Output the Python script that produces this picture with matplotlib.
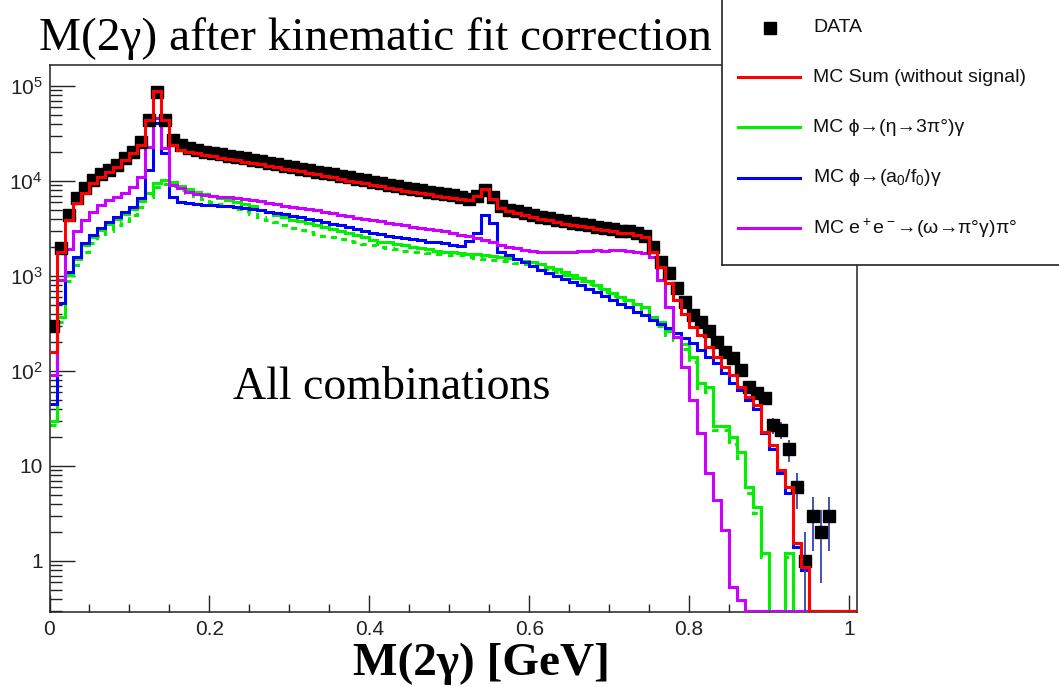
import numpy as np
import matplotlib.pyplot as plt
from matplotlib.ticker import FixedLocator, LogLocator, MultipleLocator, NullFormatter, FuncFormatter

plt.rcParams['font.family'] = ['Liberation Sans', 'DejaVu Sans']
plt.rcParams['mathtext.fontset'] = 'custom'
plt.rcParams['mathtext.rm'] = 'Liberation Sans'
plt.rcParams['mathtext.it'] = 'Liberation Sans:italic'
plt.rcParams['mathtext.bf'] = 'Liberation Sans:bold'

# histogram binning: 101 bins of 0.01 GeV
edges = np.linspace(0, 1.01, 102)

data_counts = [
    300, 1950, 4400, 6600, 8500, 10200, 11800, 13000, 14600, 17500,
    20300, 25700, 44000, 87000, 44000, 27000, 24000, 22300, 21000, 20300,
    19600, 19100, 18400, 18000, 17400, 16700, 16300, 15600, 15200, 14500,
    14100, 13500, 13100, 12500, 12200, 11700, 11400, 10900, 10500, 10200,
    9800, 9500, 9100, 8900, 8500, 8300, 8000, 7700, 7500, 7200,
    7100, 6700, 6500, 7000, 8000, 6800, 5500, 5000, 4800, 4600,
    4400, 4200, 4050, 3900, 3750, 3600, 3500, 3400, 3300, 3200,
    3100, 3000, 2950, 2800, 2600, 2000, 1410, 1070, 750, 530,
    390, 330, 260, 200, 160, 137, 102, 68, 58, 52,
    27, 24, 15, 6, 1, 3, 2, 3, 0, 0,
    0]

mc_sum = [
    160, 1800, 3900, 5900, 7400, 9500, 11000, 12500, 14100, 16600,
    19600, 24000, 44000, 89000, 44000, 24000, 21000, 20300, 19500, 18800,
    18200, 17600, 17100, 16500, 16000, 15500, 15000, 14500, 14000, 13500,
    13000, 12600, 12100, 11700, 11300, 10900, 10500, 10100, 9800, 9400,
    9100, 8800, 8500, 8200, 7900, 7700, 7400, 7200, 7000, 6800,
    6600, 6400, 6300, 6900, 8300, 6500, 5200, 4800, 4550, 4350,
    4150, 4000, 3850, 3700, 3550, 3450, 3350, 3250, 3150, 3050,
    2950, 2850, 2800, 2700, 2550, 1800, 1250, 850, 560, 400,
    290, 240, 180, 140, 110, 90, 68, 53, 44, 23,
    16.6, 9.1, 6, 1.55, 0.86, 0, 0, 0, 0, 0,
    0]

mc_eta = [
    30, 370, 1020, 1500, 2100, 2550, 3050, 3500, 4000, 4500,
    5100, 6200, 7500, 9600, 10200, 9800, 8800, 8200, 7700, 7300,
    6900, 6600, 6300, 6000, 5700, 5400, 5000, 4700, 4400, 4150,
    3900, 3750, 3600, 3450, 3300, 3150, 3000, 2850, 2700, 2550,
    2400, 2300, 2250, 2150, 2100, 2000, 1950, 1900, 1850, 1800,
    1780, 1750, 1720, 1700, 1650, 1620, 1600, 1550, 1500, 1450,
    1400, 1330, 1250, 1170, 1100, 1030, 950, 880, 800, 730,
    660, 600, 560, 510, 470, 370, 330, 260, 230, 190,
    140, 75, 68, 26, 26, 20, 14, 6, 3.7, 1.2,
    0, 0, 1.2, 0, 0, 0, 0, 0, 0, 0,
    0]

mc_eta_alt = [
    27, 330, 880, 1300, 1800, 2200, 2600, 3000, 3400, 3800,
    4400, 5300, 6700, 8600, 9300, 8900, 8000, 7400, 6900, 6400,
    6000, 5700, 5400, 5100, 4800, 4500, 4200, 3900, 3650, 3400,
    3200, 3050, 2900, 2750, 2650, 2550, 2450, 2350, 2250, 2150,
    2100, 2000, 1950, 1900, 1850, 1800, 1780, 1750, 1720, 1700,
    1680, 1650, 1600, 1560, 1520, 1480, 1450, 1420, 1380, 1340,
    1300, 1240, 1170, 1100, 1030, 960, 890, 820, 750, 680,
    620, 560, 520, 470, 430, 340, 300, 240, 210, 170,
    125, 66, 60, 24, 24, 17, 12, 5.2, 3.2, 1.1,
    0, 0, 1.1, 0, 0, 0, 0, 0, 0, 0,
    0]

mc_a0f0 = [
    45, 520, 1100, 1590, 2200, 2700, 3200, 3700, 4200, 4700,
    5300, 6600, 13000, 41000, 19700, 6800, 6000, 5800, 5700, 5600,
    5550, 5500, 5400, 5300, 5200, 5050, 4900, 4750, 4600, 4450,
    4300, 4150, 4000, 3850, 3700, 3550, 3400, 3250, 3100, 2950,
    2850, 2750, 2650, 2580, 2500, 2430, 2370, 2300, 2250, 2200,
    2100, 2050, 2350, 2850, 4400, 3600, 1800, 1650, 1500, 1400,
    1280, 1150, 1080, 1000, 930, 860, 800, 730, 670, 610,
    560, 510, 470, 420, 390, 345, 310, 280, 250, 220,
    195, 166, 140, 120, 95, 75, 63, 49, 40, 22,
    15, 8.5, 5.2, 1.4, 0.8, 0, 0, 0, 0, 0,
    0]

mc_omega = [
    90, 910, 1900, 3000, 3900, 4700, 5600, 6300, 6800, 7500,
    8700, 11000, 23000, 46000, 22000, 9100, 8500, 7600, 7300, 7100,
    6900, 6800, 6700, 6600, 6500, 6300, 6100, 5900, 5700, 5500,
    5300, 5200, 5100, 4900, 4700, 4550, 4400, 4250, 4100, 4000,
    3900, 3750, 3600, 3500, 3400, 3300, 3200, 3100, 3050, 3000,
    2850, 2700, 2600, 2500, 2400, 2250, 2100, 2000, 1950, 1880,
    1850, 1800, 1800, 1780, 1800, 1780, 1820, 1850, 1880, 1850,
    1880, 1860, 1850, 1800, 1750, 1590, 910, 470, 230, 110,
    49, 22, 8.4, 4.4, 2.1, 0.53, 0.39, 0, 0, 0,
    0, 0, 0, 0, 0, 0, 0, 0, 0, 0,
    0]

x_ticks = [0, 0.2, 0.4, 0.6, 0.8, 1.0]
y_ticks = [1, 10, 1e2, 1e3, 1e4, 1e5]
y_labels = ['1', '10', '$10^{2}$', '$10^{3}$', '$10^{4}$', '$10^{5}$']

W, H = 1059, 687
ymin, ymax = 0.29, 1.66e5

fig = plt.figure(figsize=(W / 100, H / 100), dpi=100)
ax = fig.add_axes([49.5 / W, 1 - 612 / H, (857 - 49.5) / W, (612 - 65) / H])


def draw_hist(vals, color, zo, ls='-'):
    # empty bins are drawn along the bottom of the frame, like ROOT does
    v = np.clip(np.asarray(vals, float), ymin * 1.03, None)
    ax.stairs(v, edges, baseline=None, color=color, lw=2.2, linestyle=ls, zorder=zo)


draw_hist(mc_eta_alt, '#00f000', 2, ls=(0, (2, 2)))
draw_hist(mc_eta, '#00f000', 3)
draw_hist(mc_a0f0, '#0000ff', 4)
draw_hist(mc_omega, '#cc00ff', 5)
draw_hist(mc_sum, '#ff0000', 9)

# data points with sqrt(N) errors
counts = np.asarray(data_counts, float)
centers = 0.5 * (edges[:-1] + edges[1:])
m = counts > 0
err = np.sqrt(counts[m])
lo = np.clip(counts[m] - err, ymin * 0.5, None)
hi = counts[m] + err
ax.vlines(centers[m], lo, hi, color='#3344aa', lw=1.3, zorder=7)
ax.plot(centers[m], counts[m], 's', color='black', ms=8.5, zorder=8)

ax.set_xlim(0, 1.01)
ax.set_yscale('log')
ax.set_ylim(ymin, ymax)
ax.xaxis.set_major_locator(FixedLocator(x_ticks))
ax.xaxis.set_minor_locator(MultipleLocator(0.05))
ax.xaxis.set_major_formatter(FuncFormatter(lambda v, p: '%g' % v))
ax.yaxis.set_major_locator(FixedLocator(y_ticks))
ax.set_yticklabels(y_labels)
ax.yaxis.set_minor_locator(LogLocator(base=10, subs=range(2, 10)))
ax.yaxis.set_minor_formatter(NullFormatter())
ax.tick_params(which='both', direction='in', top=False, right=False, colors='#222222')
ax.tick_params(axis='y', which='major', length=18, width=1, labelsize=15, pad=5)
ax.tick_params(axis='y', which='minor', length=8.6, width=1)
ax.tick_params(axis='x', which='major', length=12, width=1, labelsize=15, pad=6)
ax.tick_params(axis='x', which='minor', length=6, width=1)
for s in ax.spines.values():
    s.set_linewidth(1.1)
    s.set_color('#222222')

serif = ['Liberation Serif', 'DejaVu Serif']
fig.text(375 / W, 1 - 50 / H, 'M(2γ) after kinematic fit correction',
         family=serif, fontsize=34, ha='center', va='baseline')
fig.text(392 / W, 1 - 399 / H, 'All combinations',
         family=serif, fontsize=33, ha='center', va='baseline')
fig.text(481 / W, 1 - 675 / H, 'M(2γ) [GeV]',
         family=serif, fontsize=34, weight='bold', ha='center', va='baseline')

# legend box (extends past the top/right edge of the picture)
lg = fig.add_axes([722 / W, 1 - 265 / H, 0.4, 0.45])
lg.set_xlim(722, 722 + 0.4 * W)
lg.set_ylim(265, 265 - 0.45 * H)
lg.set_xticks([])
lg.set_yticks([])
for s in lg.spines.values():
    s.set_linewidth(1.2)
    s.set_color('#222222')

leg_labels = ['DATA', 'MC Sum (without signal)', 'MC ϕ→(η→3π°)γ',
              'MC ϕ→(a$_0$/f$_0$)γ', 'MC e$^+$e$^-$→(ω→π°γ)π°']
leg_colors = [None, '#ff0000', '#00f000', '#0000ff', '#cc00ff']
leg_y = [28, 77, 127, 178, 228]
for lab, col, yy in zip(leg_labels, leg_colors, leg_y):
    if col is None:
        lg.plot([770], [yy], 's', color='black', ms=9)
    else:
        lg.plot([738, 800], [yy, yy], color=col, lw=2.2)
    lg.text(813, yy, lab, fontsize=14, va='center', ha='left', color='#111111')

fig.savefig('out.png', dpi=100)
